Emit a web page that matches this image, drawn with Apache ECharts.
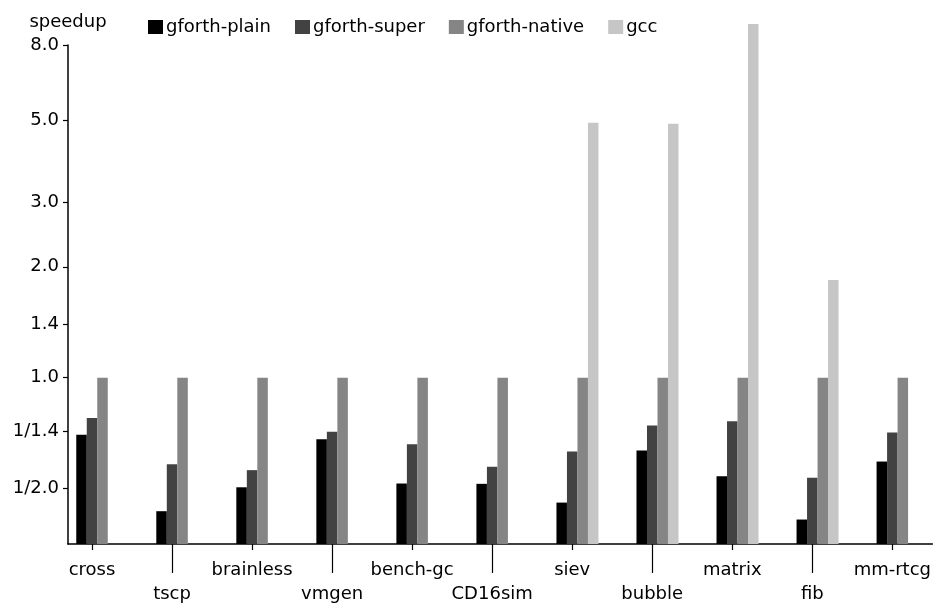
<!DOCTYPE html>
<html>
<head>
<meta charset="utf-8">
<script src="https://cdn.jsdelivr.net/npm/echarts@6/dist/echarts.min.js"></script>
<style>
html,body{margin:0;padding:0;background:#fff;}
#chart{width:934px;height:605px;}
</style>
</head>
<body>
<div id="chart"></div>
<script>
// ---- data (speedup relative to gforth-native) ----
const CATEGORIES = ['cross','tscp','brainless','vmgen','bench-gc','CD16sim','siev','bubble','matrix','fib','mm-rtcg'];
const GFORTH_PLAIN  = [0.700,0.434,0.504,0.681,0.516,0.515,0.458,0.634,0.540,0.412,0.592];
const GFORTH_SUPER  = [0.777,0.582,0.561,0.713,0.660,0.573,0.630,0.742,0.762,0.535,0.710];
const GFORTH_NATIVE = [1.0,1.0,1.0,1.0,1.0,1.0,1.0,1.0,1.0,1.0,1.0];
const GCC           = [null,null,null,null,null,null,4.92,4.89,9.12,1.84,null];
const Y_TICK_VALUES = [0.5, 1/1.4, 1.0, 1.4, 2.0, 3.0, 5.0, 8.0];
const Y_TICK_LABELS = ['1/2.0','1/1.4','1.0','1.4','2.0','3.0','5.0','8.0'];
const AXIS_MIN = Math.pow(2, -1.5);
const AXIS_MAX = 8.0;

const FONT = 'DejaVu Sans';
const toY = v => Math.log2(v / AXIS_MIN);
const yTickPos = Y_TICK_VALUES.map(toY);
const evenIdx = CATEGORIES.map((c,i)=>i).filter(i => i % 2 === 0);
const oddIdx  = CATEGORIES.map((c,i)=>i).filter(i => i % 2 === 1);

function bars(name, values, color, clip) {
  return {
    name: name, type: 'bar',
    data: values.map((v,i) => v == null ? null : [i, toY(v)]).filter(d => d),
    barWidth: 10.5, barGap: '0%',
    itemStyle: { color: color },
    clip: clip,
    xAxisIndex: 0, yAxisIndex: 0
  };
}

const xBase = {
  type: 'value', min: -0.3, max: 10.5, position: 'bottom',
  splitLine: { show: false }
};

const option = {
  animation: false,
  backgroundColor: '#ffffff',
  textStyle: { fontFamily: FONT },
  grid: { left: 68, right: 0, top: 45, bottom: 61 },
  legend: {
    left: 148, top: 18, padding: 0,
    icon: 'rect', itemWidth: 15, itemHeight: 14, itemGap: 24,
    data: ['gforth-plain','gforth-super','gforth-native','gcc'],
    textStyle: { fontFamily: FONT, fontSize: 18, color: '#000', padding: [0,0,0,-2] }
  },
  xAxis: [
    Object.assign({}, xBase, {
      axisLine: { show: true, onZero: false, lineStyle: { color: '#000', width: 1.5 } },
      axisTick: { show: true, length: 6, customValues: evenIdx, lineStyle: { color: '#000', width: 1.2 } },
      axisLabel: { show: true, customValues: evenIdx, margin: 17,
        formatter: v => CATEGORIES[Math.round(v)] || '',
        fontFamily: FONT, fontSize: 18, color: '#000' }
    }),
    Object.assign({}, xBase, {
      axisLine: { show: false, onZero: false },
      axisTick: { show: true, length: 29, customValues: oddIdx, lineStyle: { color: '#000', width: 1.2 } },
      axisLabel: { show: true, customValues: oddIdx, margin: 41,
        formatter: v => CATEGORIES[Math.round(v)] || '',
        fontFamily: FONT, fontSize: 18, color: '#000' }
    })
  ],
  yAxis: {
    type: 'value', min: 0, max: toY(AXIS_MAX),
    name: 'speedup', nameLocation: 'end', nameGap: 14,
    nameTextStyle: { fontFamily: FONT, fontSize: 18, color: '#000', align: 'center' },
    splitLine: { show: false },
    axisLine: { show: true, onZero: false, lineStyle: { color: '#000', width: 1.5 } },
    axisTick: { show: true, length: 5, customValues: yTickPos, lineStyle: { color: '#000', width: 1.2 } },
    axisLabel: { show: true, customValues: yTickPos, margin: 9,
      fontFamily: FONT, fontSize: 18, color: '#000',
      formatter: function (v) {
        let best = 0, d = Infinity;
        yTickPos.forEach((p,i) => { if (Math.abs(p - v) < d) { d = Math.abs(p - v); best = i; } });
        return Y_TICK_LABELS[best];
      }
    }
  },
  series: [
    { name: '_pad', type: 'bar', data: [], barWidth: 10.5, barGap: '0%', xAxisIndex: 0 },
    bars('gforth-plain',  GFORTH_PLAIN,  '#000000', true),
    bars('gforth-super',  GFORTH_SUPER,  '#424242', true),
    bars('gforth-native', GFORTH_NATIVE, '#858585', true),
    bars('gcc',           GCC,           '#c6c6c6', false)
  ]
};

const chart = echarts.init(document.getElementById('chart'), null, { renderer: 'canvas' });
chart.setOption(option);
</script>
</body>
</html>
